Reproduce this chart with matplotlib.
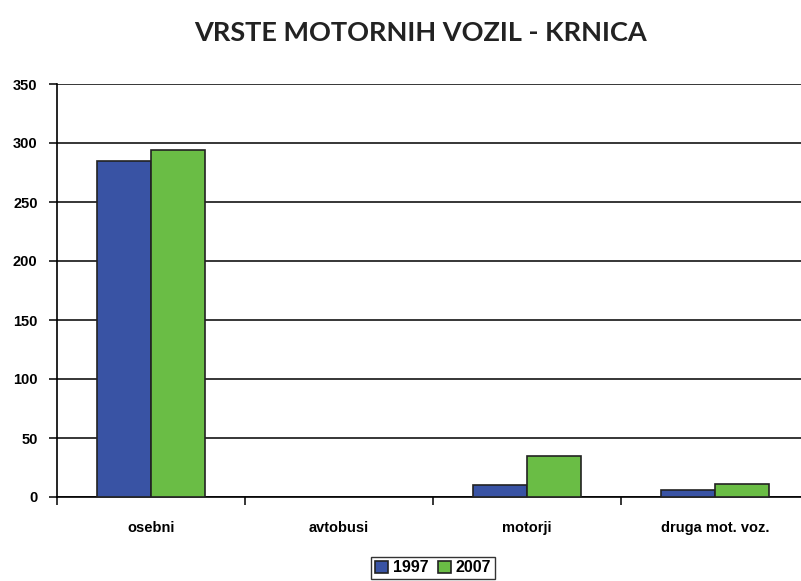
import matplotlib.pyplot as plt
import numpy as np

categories = ['osebni', 'avtobusi', 'motorji', 'druga mot. voz.']
years = ['1997', '2007']
values_1997 = [285, 0, 10, 6]
values_2007 = [294, 0, 35, 11]
y_ticks = [0, 50, 100, 150, 200, 250, 300, 350]

blue = '#3953A4'
green = '#6ABD45'

fig = plt.figure(figsize=(8.01, 5.81), dpi=100)
ax = fig.add_axes([57 / 801, 84 / 581, 752 / 801, 413 / 581])

x = np.arange(len(categories))
w = 0.287
for vals, off, col, lab in [(values_1997, -w / 2, blue, years[0]), (values_2007, w / 2, green, years[1])]:
    bars = ax.bar(x + off, vals, w, color=col, edgecolor='#222222', linewidth=1.2, label=lab, zorder=3)
    # empty categories show no outline
    for b, v in zip(bars, vals):
        if v == 0:
            b.set_edgecolor('none')

ax.set_xlim(-0.5, len(categories) - 0.5)
ax.set_ylim(0, 350)
ax.set_yticks(y_ticks)
ax.set_yticklabels([str(v) for v in y_ticks], fontsize=10.5, fontweight='bold', family='Liberation Sans')
ax.yaxis.grid(True, color='black', linewidth=1.1, zorder=0)
ax.set_axisbelow(True)

# category boundaries as ticks, labels in the middle
ax.set_xticks(np.arange(len(categories) + 1) - 0.5)
ax.set_xticklabels([])
ax.set_xticks(x, minor=True)
ax.set_xticklabels(categories, minor=True, fontsize=10.5, fontweight='bold', family='Liberation Sans')
ax.tick_params(axis='x', which='minor', length=0, pad=17)
ax.tick_params(axis='x', which='major', length=6, width=1.1, direction='out')
ax.tick_params(axis='y', length=6, width=1.1, direction='out', pad=8)

for s in ['top', 'right']:
    ax.spines[s].set_visible(False)
ax.spines['left'].set_linewidth(1.2)
ax.spines['bottom'].set_linewidth(1.2)

fig.text(421 / 801, 1 - 33 / 581, 'VRSTE MOTORNIH VOZIL - KRNICA', ha='center', va='center',
         fontsize=19.5, fontweight='bold', family='Lato', color='#222222')

fig.legend(loc='center', bbox_to_anchor=(433 / 801, 1 - 568 / 581), ncol=2,
           prop={'family': 'Liberation Sans', 'weight': 'bold', 'size': 11.5},
           frameon=True, fancybox=False, edgecolor='black', handlelength=0.8, handleheight=0.8,
           handletextpad=0.3, columnspacing=0.6, borderpad=0.25)

fig.savefig('out.png', dpi=100)
